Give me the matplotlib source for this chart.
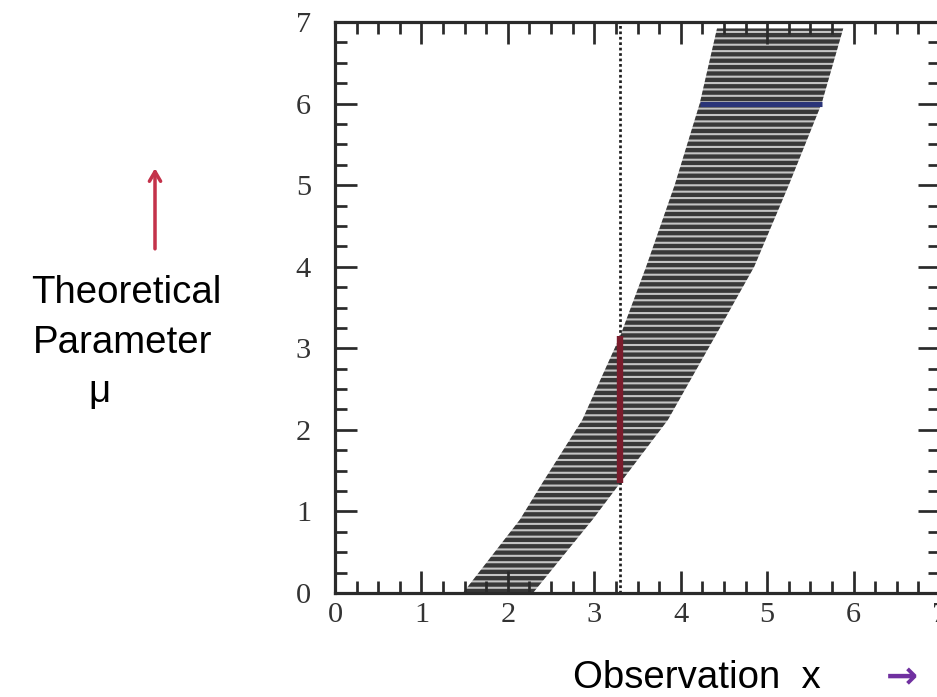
import matplotlib.pyplot as plt
from matplotlib.patches import FancyArrowPatch
from matplotlib.ticker import MultipleLocator

# Neyman-style confidence belt (scanned figure on a slide)
mu_pts = [0.0, 0.9, 1.35, 2.12, 3.15, 4.0, 5.0, 6.0, 6.92]
x_left = [1.48, 2.14, 2.40, 2.86, 3.30, 3.60, 3.93, 4.22, 4.42]
x_right = [2.29, 2.98, 3.30, 3.85, 4.40, 4.85, 5.25, 5.63, 5.88]

x_obs = 3.3
mu_interval = [1.35, 3.15]   # red: interval for the observed x
mu_true = 6.0                # blue: acceptance region for one mu
blue_x = [4.22, 5.63]

DPI = 115
plt.rcParams['hatch.linewidth'] = 2.7
fig = plt.figure(figsize=(937 / DPI, 697 / DPI), dpi=DPI)
ax = fig.add_axes([335 / 937, 104 / 697, 605 / 937, 571 / 697])

ax.fill_betweenx(mu_pts, x_left, x_right, facecolor='#c4c4c4',
                 edgecolor='#383838', hatch='---', linewidth=0)
ax.axvline(x_obs, color='#1e1e1e', lw=1.7, ls=(0, (1.0, 1.0)))
ax.plot([x_obs, x_obs], mu_interval, color='#7a1c2c', lw=4,
        solid_capstyle='butt')
ax.plot(blue_x, [mu_true, mu_true], color='#2a3478', lw=3.2,
        solid_capstyle='butt')

ax.set_xlim(0, 7)
ax.set_ylim(0, 7)
for s in ax.spines.values():
    s.set_linewidth(2.0)
    s.set_color('#2a2a2a')
ax.xaxis.set_major_locator(MultipleLocator(1))
ax.yaxis.set_major_locator(MultipleLocator(1))
ax.xaxis.set_minor_locator(MultipleLocator(0.25))
ax.yaxis.set_minor_locator(MultipleLocator(0.25))
ax.tick_params(which='both', direction='in', top=True, right=True,
               color='#2a2a2a', width=1.7)
ax.tick_params(which='major', length=14)
ax.tick_params(which='minor', length=7.5)
ax.tick_params(axis='x', which='major', pad=5.5)
ax.tick_params(axis='y', which='major', pad=15)
for lab in ax.get_xticklabels() + ax.get_yticklabels():
    lab.set_family('Liberation Serif')
    lab.set_fontsize(19)
    lab.set_color('#333333')

# slide annotations
fig.patches.append(FancyArrowPatch(
    (155 / 937, 1 - 252 / 697), (155 / 937, 1 - 165 / 697),
    transform=fig.transFigure, arrowstyle='->,head_length=6,head_width=3.5',
    color='#c4324a', lw=2.2))
fig.text(222 / 937, 1 - 303 / 697, 'Theoretical', ha='right', va='baseline',
         fontsize=24, family='Liberation Sans')
fig.text(212 / 937, 1 - 353 / 697, 'Parameter', ha='right', va='baseline',
         fontsize=24, family='Liberation Sans')
fig.text(99 / 937, 1 - 402 / 697, 'μ', ha='center', va='baseline',
         fontsize=24, family='Liberation Sans')
fig.text(573 / 937, 1 - 688 / 697, 'Observation  x', ha='left', va='baseline',
         fontsize=24, family='Liberation Sans')
fig.text(886 / 937, 1 - 688 / 697, '→', ha='left', va='baseline',
         fontsize=24, family='DejaVu Sans', fontweight='bold', color='#7030a0')

fig.savefig('out.png', dpi=DPI, facecolor='white')
